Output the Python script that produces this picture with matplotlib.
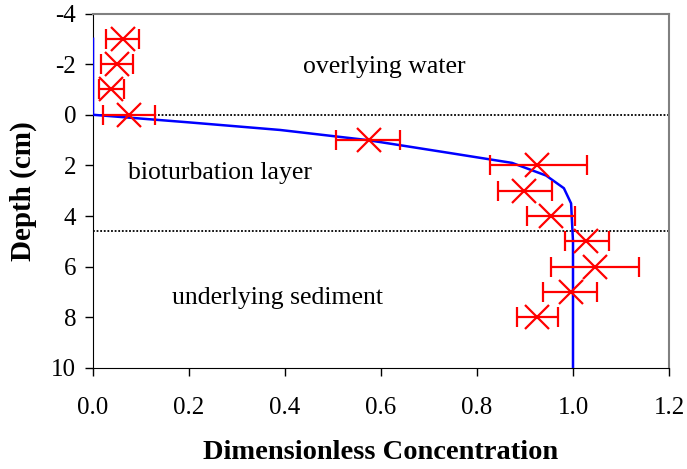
import matplotlib
matplotlib.use('Agg')
import matplotlib.pyplot as plt

plt.rcParams['font.family'] = ['Liberation Serif', 'DejaVu Serif']
plt.rcParams['axes.unicode_minus'] = False

# measured data (depth in cm, dimensionless concentration)
depth = [-3, -2, -1, 0, 1, 2, 3, 4, 5, 6, 7, 8]
conc = [0.062, 0.049, 0.037, 0.075, 0.574, 0.924, 0.897, 0.954, 1.028, 1.046, 0.996, 0.926]
err_lo = [0.034, 0.033, 0.025, 0.055, 0.067, 0.097, 0.053, 0.049, 0.045, 0.091, 0.058, 0.042]
err_hi = [0.034, 0.035, 0.028, 0.054, 0.066, 0.106, 0.059, 0.050, 0.047, 0.091, 0.054, 0.043]

# model profile
model_depth = [-3, 0, 0.3, 0.6, 1.0, 1.5, 1.9, 2.4, 2.9, 3.5, 5, 10]
model_conc = [0, 0, 0.2, 0.39, 0.572, 0.74, 0.873, 0.944, 0.981, 0.996, 1.0, 1.0]

layer_bounds = [0, 4.6]

fig = plt.figure(figsize=(6.87, 4.69), dpi=100)
ax = fig.add_axes([0.1354, 0.2154, 0.9738 - 0.1354, 0.9712 - 0.2154])

ax.plot(model_conc, model_depth, color='blue', lw=1.8, zorder=3)
ax.errorbar(conc, depth, xerr=[err_lo, err_hi], fmt='x', color='red',
            ms=17, mew=1.6, elinewidth=1.6, capsize=7, capthick=1.6, zorder=4)
for b in layer_bounds:
    ax.axhline(b, color='black', lw=1.3, ls=(0, (1, 1)), zorder=2)

ax.text(0.607, -1.9, 'overlying water', fontsize=18.5, ha='center', va='center')
ax.text(0.264, 2.3, 'bioturbation layer', fontsize=18.5, ha='center', va='center')
ax.text(0.385, 7.25, 'underlying sediment', fontsize=18.5, ha='center', va='center')

ax.set_xlim(0, 1.2)
ax.set_ylim(10, -4)
ax.set_xticks([0, 0.2, 0.4, 0.6, 0.8, 1.0, 1.2])
ax.set_xticklabels(['0.0', '0.2', '0.4', '0.6', '0.8', '1.0', '1.2'])
ax.set_yticks(range(-4, 11, 2))
ax.tick_params(direction='out', length=6, width=1, labelsize=18, pad=6)
ax.tick_params(axis='x', pad=15)
ax.spines['top'].set_color('gray')
ax.spines['right'].set_color('gray')
ax.spines['top'].set_linewidth(1.5)
ax.spines['right'].set_linewidth(1.5)

ax.set_xlabel('Dimensionless Concentration', fontsize=20.5, fontweight='bold', labelpad=15)
ax.set_ylabel('Depth (cm)', fontsize=21, fontweight='bold', labelpad=10)

fig.savefig('out.png', dpi=100)
